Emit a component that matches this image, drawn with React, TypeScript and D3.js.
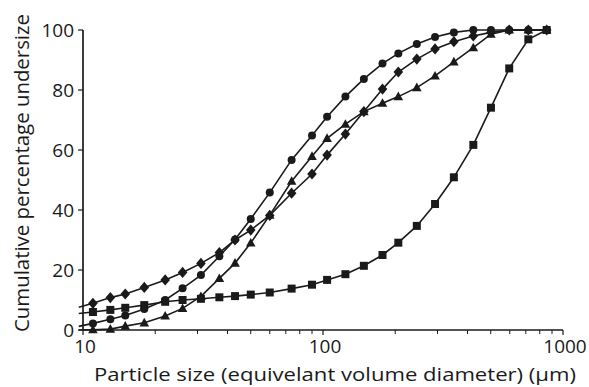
import { useEffect } from "react";
import * as d3 from "d3";

// particle size classes (µm)
const sizes = [11, 13, 15, 18, 22, 26, 31, 37, 43, 50, 60, 74, 90, 104, 124, 148, 177, 206, 246, 293, 351, 423, 501, 597, 717, 855];
// line stub that starts just left of the axis (no marker)
const leadSize = 9.6;

const circles = [2.2, 3.6, 4.8, 7.0, 10.0, 13.9, 18.3, 24.6, 30.2, 37.0, 45.8, 56.7, 64.8, 71.1, 77.8, 83.7, 88.8, 92.2, 95.3, 97.7, 99.2, 100, 100, 100, 100, 100];
const diamonds = [8.9, 10.8, 12.0, 14.2, 16.7, 19.2, 22.2, 25.8, 30.0, 33.3, 38.2, 45.6, 52.0, 58.3, 65.3, 72.8, 80.3, 86.0, 90.3, 93.7, 96.1, 98.0, 99.2, 100, 100, 100];
const triangles = [0.1, 0.3, 1.3, 2.4, 4.7, 7.2, 11.2, 17.2, 22.3, 29.0, 38.3, 49.6, 57.9, 63.9, 68.6, 72.8, 75.6, 77.8, 80.8, 84.7, 89.4, 94.1, 98.6, 100, 100, 100];
const squares = [6.0, 6.7, 7.4, 8.3, 9.4, 10.0, 10.4, 10.9, 11.3, 11.8, 12.5, 13.8, 15.1, 16.7, 18.6, 21.4, 25.0, 29.1, 34.7, 42.0, 50.9, 61.7, 74.1, 87.2, 96.9, 100];
const leadValues = { circle: 1.2, diamond: 7.6, triangle: 0, square: 5.5 };

const yTicks = [0, 20, 40, 60, 80, 100];
const xTicks = [10, 100, 1000];

const width = 589;
const height = 387;
const margin = { top: 30, right: 26, bottom: 57, left: 83 };
const ink = "#1a1a1a";
const font = "'Open Sans', 'Noto Sans', sans-serif";

type Shape = "circle" | "diamond" | "triangle" | "square";

const symbolTypes: Record<Shape, d3.SymbolType> = {
  circle: { draw: (p) => { p.moveTo(4, 0); p.arc(0, 0, 4, 0, Math.PI * 2); } },
  diamond: { draw: (p) => { p.moveTo(0, -5.6); p.lineTo(4.8, 0); p.lineTo(0, 5.6); p.lineTo(-4.8, 0); p.closePath(); } },
  triangle: { draw: (p) => { p.moveTo(0, -5); p.lineTo(4.8, 3.6); p.lineTo(-4.8, 3.6); p.closePath(); } },
  square: { draw: (p) => { p.rect(-4, -4, 8, 8); } },
};

const series: { shape: Shape; values: number[] }[] = [
  { shape: "square", values: squares },
  { shape: "triangle", values: triangles },
  { shape: "diamond", values: diamonds },
  { shape: "circle", values: circles },
];

export default function App() {
  useEffect(() => {
    document.body.style.margin = "0";
  }, []);

  const x = d3.scaleLog().domain([10, 1000]).range([margin.left, width - margin.right]);
  const y = d3.scaleLinear().domain([0, 100]).range([height - margin.bottom, margin.top]);
  const x0 = x.range()[0];
  const x1 = x.range()[1];
  const yb = y(0);

  const minorTicks = d3.range(1, 3).flatMap((e) => d3.range(2, 10).map((m) => m * 10 ** e));

  const line = d3
    .line<[number, number]>()
    .x((d) => x(d[0]))
    .y((d) => y(d[1]));

  return (
    <svg width={width} height={height} style={{ display: "block", background: "#fff" }} fontFamily={font}>
      {/* series lines + markers */}
      {series.map((s) => {
        const pts: [number, number][] = [[leadSize, leadValues[s.shape]], ...sizes.map((d, i) => [d, s.values[i]] as [number, number])];
        const sym = d3.symbol(symbolTypes[s.shape])();
        return (
          <g key={s.shape}>
            <path d={line(pts) ?? ""} fill="none" stroke={ink} strokeWidth={1.6} />
            {sizes.map((d, i) => (
              <path key={i} d={sym ?? ""} transform={`translate(${x(d)},${y(s.values[i])})`} fill={ink} />
            ))}
          </g>
        );
      })}

      {/* y axis */}
      <line x1={x0} x2={x0} y1={y(100)} y2={yb} stroke={ink} strokeWidth={1.7} />
      {yTicks.map((t) => (
        <g key={t} transform={`translate(0,${y(t)})`}>
          <line x1={x0 - 5} x2={x0} stroke={ink} strokeWidth={1.2} />
          <text x={x0 - 9} dy="0.36em" textAnchor="end" fontSize={19} fill={ink}>
            {t}
          </text>
        </g>
      ))}

      {/* x axis */}
      <line x1={x0} x2={x1} y1={yb} y2={yb} stroke={ink} strokeWidth={1.7} />
      {minorTicks.map((t) => (
        <line key={t} x1={x(t)} x2={x(t)} y1={yb} y2={yb + 4} stroke={ink} strokeWidth={1} />
      ))}
      {xTicks.map((t) => (
        <g key={t} transform={`translate(${x(t)},0)`}>
          <line y1={yb} y2={yb + 5} stroke={ink} strokeWidth={1.2} />
          <text x={2} y={yb + 23} textAnchor="middle" fontSize={19} fill={ink}>
            {t}
          </text>
        </g>
      ))}

      {/* axis titles */}
      <text x={335} y={381} textAnchor="middle" fontSize={19} textLength={482} lengthAdjust="spacingAndGlyphs" fill={ink}>
        Particle size (equivelant volume diameter) (μm)
      </text>
      <text transform="translate(29,173) rotate(-90)" textAnchor="middle" fontSize={20} textLength={318} lengthAdjust="spacingAndGlyphs" fill={ink}>
        Cumulative percentage undersize
      </text>
    </svg>
  );
}
